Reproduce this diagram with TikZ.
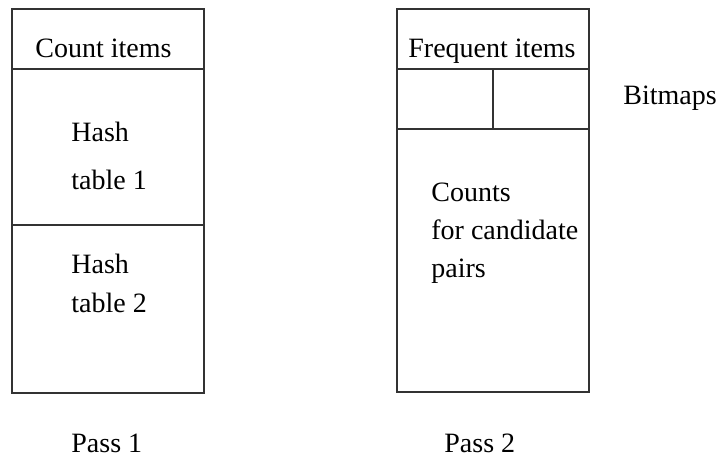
\documentclass[tikz,border=0pt]{standalone}
\usepackage{fontspec}
\setmainfont{LiberationSerif}[Extension=.ttf, UprightFont=*-Regular]

\begin{document}
\begin{tikzpicture}[x=0.5pt,y=-0.5pt,
    cell/.style={draw=black!80, line width=0.6pt},
    lbl/.style={anchor=base west, inner sep=0pt, font=\fontsize{14}{17}\selectfont},
  ]
  \useasboundingbox (0,0) rectangle (721,456);

  % first pass: item counts and two hash tables
  \draw[cell] (12,9) rectangle (204,393);
  \draw[cell] (12,69) -- (204,69);
  \draw[cell] (12,225) -- (204,225);
  \node[lbl] (count)  at (35,57)  {Count items};
  \node[lbl] (hashA)  at (71,141) {Hash};
  \node[lbl] (tabA)   at (71,189) {table 1};
  \node[lbl] (hashB)  at (71,273) {Hash};
  \node[lbl] (tabB)   at (71,312) {table 2};
  \node[lbl] (pass1)  at (71,452) {Pass 1};

  % second pass: frequent items, bitmaps, candidate counts
  \draw[cell] (397,9) rectangle (589,392);
  \draw[cell] (397,69) -- (589,69);
  \draw[cell] (397,129) -- (589,129);
  \draw[cell] (493,69) -- (493,129);
  \node[lbl] (freq)   at (408,57)  {Frequent items};
  \node[lbl] (bitmap) at (623,104) {Bitmaps};
  \node[lbl] (counts) at (431,201) {Counts};
  \node[lbl] (cand)   at (431,239) {for candidate};
  \node[lbl] (pairs)  at (431,277) {pairs};
  \node[lbl] (pass2)  at (444,452) {Pass 2};
\end{tikzpicture}
\end{document}
